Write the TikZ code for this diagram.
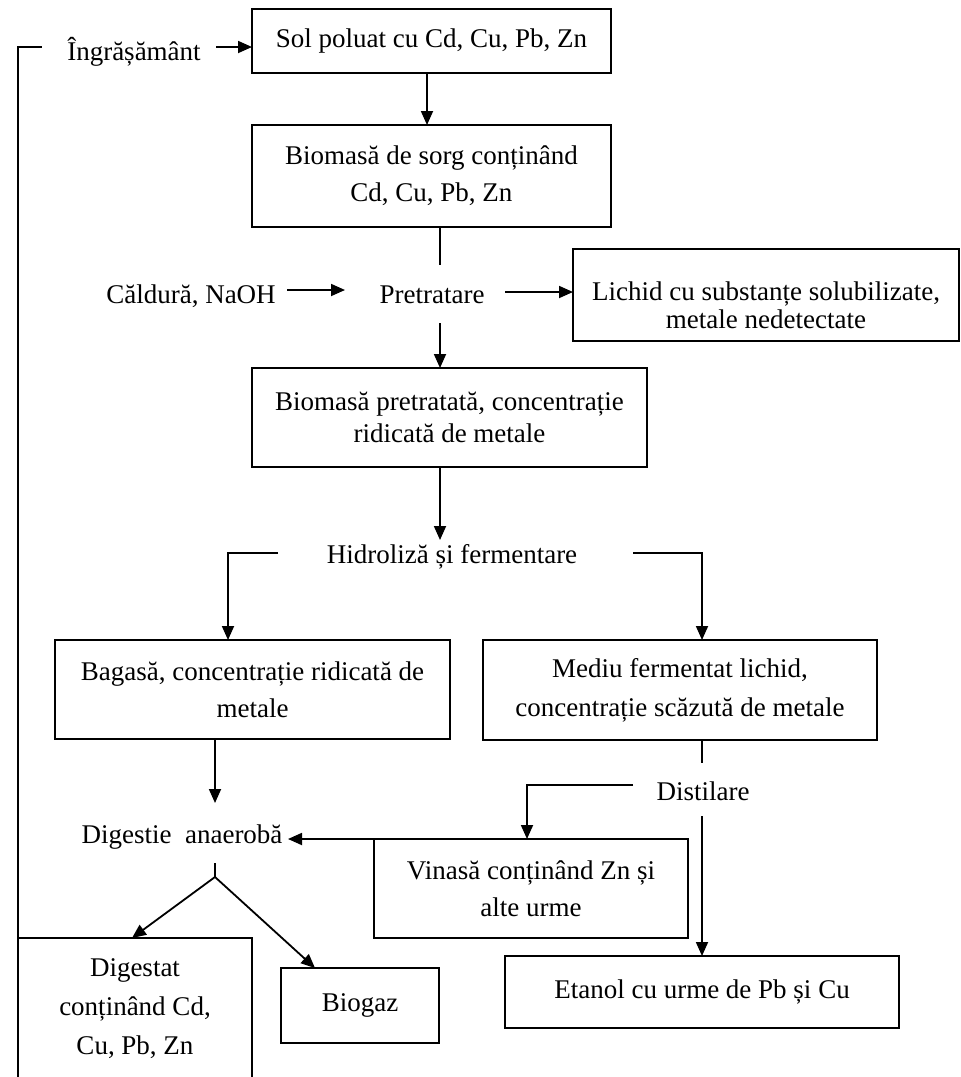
\documentclass[tikz,border=0pt]{standalone}
\usepackage{fontspec}
\setmainfont{Liberation Serif}
\usetikzlibrary{arrows.meta}
\begin{document}
\begin{tikzpicture}[x=1pt,y=1pt,
  every node/.style={font=\fontsize{27}{37}\selectfont},
  box/.style={draw, line width=1.8pt, align=center, inner sep=0pt, outer sep=0pt},
  lbl/.style={inner sep=0pt, anchor=base},
  link/.style={line width=1.8pt},
  arr/.style={link, -{Triangle[length=14pt,width=12pt]}},
]
\useasboundingbox (0,0) rectangle (961,-1077);
\fill[white] (0,0) rectangle (961,-1077);
\clip (0,0) rectangle (961,-1077);

% process boxes
\node[box, minimum width=359pt, minimum height=64pt] (soil) at (431.5,-41) {Sol poluat cu Cd, Cu, Pb, Zn};
\node[box, minimum width=359pt, minimum height=102pt] (biomass) at (431.5,-176) {Biomasă de sorg conținând\\Cd, Cu, Pb, Zn};
\node[box, minimum width=386pt, minimum height=92pt, font=\fontsize{27}{28}\selectfont] (liquid) at (766,-295) {\rule{0pt}{39pt}Lichid cu substanțe solubilizate,\\metale nedetectate};
\node[box, minimum width=395pt, minimum height=99pt, font=\fontsize{27}{32}\selectfont] (treated) at (449.5,-417.5) {Biomasă pretratată, concentrație\\ridicată de metale};
\node[box, minimum width=395pt, minimum height=99pt] (bagasse) at (252.5,-689.5) {Bagasă, concentrație ridicată de\\metale};
\node[box, minimum width=394pt, minimum height=100pt, font=\fontsize{27}{39}\selectfont] (medium) at (680,-690) {Mediu fermentat lichid,\\concentrație scăzută de metale};
\node[box, minimum width=314pt, minimum height=99pt] (vinasse) at (531,-888.5) {Vinasă conținând Zn și\\alte urme};
\node[box, minimum width=394pt, minimum height=72pt] (ethanol) at (702,-992) {Etanol cu urme de Pb și Cu};
\node[box, minimum width=234pt, minimum height=142pt, font=\fontsize{27}{39}\selectfont] (digestate) at (135,-1009) {Digestat\\conținând Cd,\\Cu, Pb, Zn};
\node[box, minimum width=158pt, minimum height=75pt] (biogas) at (360,-1005.5) {Biogaz};

% free-standing step labels
\node[lbl] (fert) at (134,-60) {Îngrășământ};
\node[lbl] (heat) at (191,-303) {Căldură, NaOH};
\node[lbl] (pretreat) at (432,-303) {Pretratare};
\node[lbl] (hydro) at (452,-563) {Hidroliză și fermentare};
\node[lbl] (distil) at (703,-800) {Distilare};
\node[lbl] (digest) at (182,-843) {Digestie\ \ anaerobă};

% digestate returned to the field as fertiliser
\coordinate (loop) at (42,-47);
\draw[link] (digestate.north west) |- (loop);

\coordinate (fertout) at (216,-47);
\draw[arr] (fertout) -- (fertout -| soil.west);
\draw[arr] ([xshift=-4.5pt]soil.south) -- ([xshift=-4.5pt]biomass.north);

% pretreatment
\coordinate (pretin) at (440,-265);
\draw[link] (pretin |- biomass.south) -- (pretin);
\coordinate (heatout) at (287,-290);
\coordinate (pretatip) at (345,-290);
\draw[arr] (heatout) -- (pretatip);
\coordinate (pretout) at (505,-292);
\draw[arr] (pretout) -- (pretout -| liquid.west);
\coordinate (pretdown) at (440,-323);
\draw[arr] (pretdown) -- (pretdown |- treated.north);

% hydrolysis and fermentation
\coordinate (hydrotip) at (440,-540);
\draw[arr] (hydrotip |- treated.south) -- (hydrotip);
\coordinate (hydroL) at (278,-553);
\coordinate (hydroR) at (633,-553);
\draw[arr] (hydroL) -| ([xshift=-24.5pt]bagasse.north);
\draw[arr] (hydroR) -| ([xshift=22pt]medium.north);

% anaerobic digestion branch
\coordinate (digtip) at (215,-803);
\draw[arr] (digtip |- bagasse.south) -- (digtip);

% distillation branch
\coordinate (distin) at (702,-763);
\draw[link] (distin |- medium.south) -- (distin);
\coordinate (distL) at (633,-785);
\draw[arr] (distL) -| ([xshift=-4pt]vinasse.north);
\coordinate (distdown) at (702,-816);
\draw[arr] (distdown) -- (distdown |- ethanol.north);

% vinasse fed back into digestion
\coordinate (digin) at (288,-839);
\draw[arr] (vinasse.north west) -- (digin);

% digestion products
\coordinate (splittop) at (215,-863);
\coordinate (split) at (215,-877);
\draw[link] (splittop) -- (split);
\draw[arr] (split) -- ([xshift=-3pt]digestate.north);
\draw[arr] (split) -- ([xshift=-45pt]biogas.north);
\end{tikzpicture}
\end{document}
